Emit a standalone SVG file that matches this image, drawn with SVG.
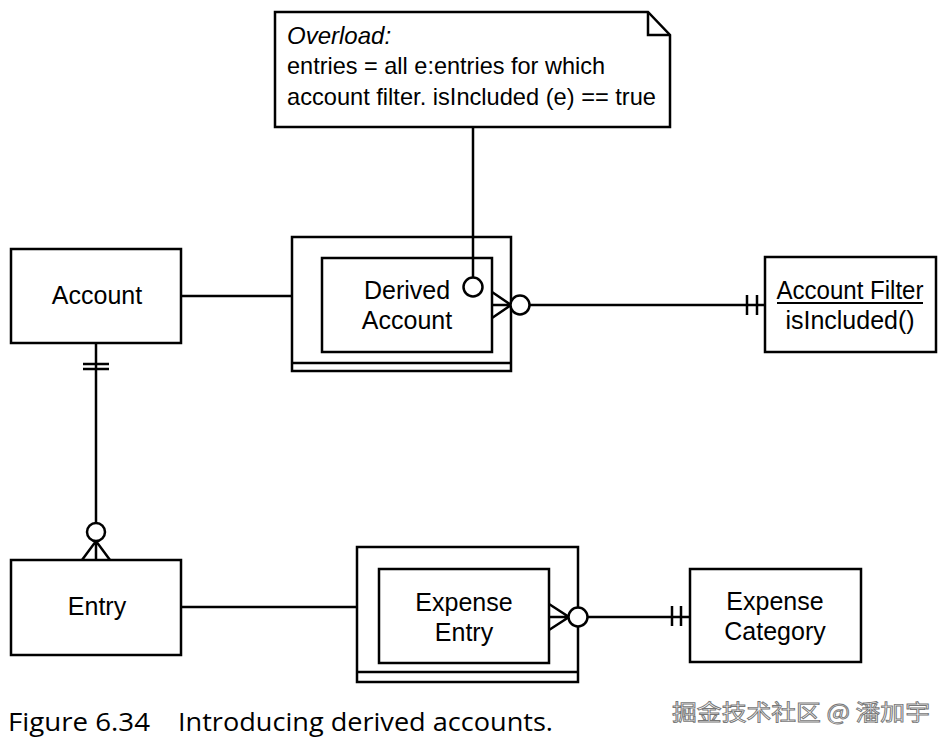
<svg xmlns="http://www.w3.org/2000/svg" width="952" height="744" viewBox="0 0 952 744">
<style>
.b{fill:#fff;stroke:#000;stroke-width:2.5}
.l{fill:none;stroke:#000;stroke-width:2.5}
.c{fill:#fff;stroke:#000;stroke-width:2.5}
.t{font-family:"Liberation Sans",Arial,sans-serif;font-size:25px;fill:#000;text-anchor:middle}
.n{font-family:"Liberation Sans",Arial,sans-serif;font-size:24px;fill:#000}
.cap{font-family:"Open Sans","Noto Sans",sans-serif;font-size:25px;fill:#000}
.wm{font-family:"Noto Sans CJK SC","Noto Sans",sans-serif;font-size:22px;fill:#fff;stroke:#777;stroke-width:0.9}
</style>
<rect width="952" height="744" fill="#fff"/>
<g id="note">
  <path class="b" d="M275,12 H648 L670,35 V127 H275 Z"/>
  <path class="l" d="M648,12 V35 H670"/>
  <text class="n" x="287" y="44" font-style="italic">Overload:</text>
  <text class="n" x="287" y="74" textLength="318" lengthAdjust="spacingAndGlyphs">entries = all e:entries for which</text>
  <text class="n" x="287" y="105" textLength="369" lengthAdjust="spacingAndGlyphs">account filter. isIncluded (e) == true</text>
</g>
<g id="account">
  <rect class="b" x="11" y="249" width="170" height="94"/>
  <text class="t" x="97" y="304">Account</text>
</g>
<g id="derived-account">
  <rect class="b" x="292" y="237" width="219" height="134"/>
  <line class="l" x1="292" y1="363" x2="511" y2="363"/>
  <rect class="b" x="322" y="258" width="170" height="94"/>
  <text class="t" x="407" y="299">Derived</text>
  <text class="t" x="407" y="329">Account</text>
</g>
<g id="account-filter">
  <rect class="b" x="765" y="257" width="171" height="95"/>
  <text class="t" x="850" y="299" textLength="147" lengthAdjust="spacingAndGlyphs">Account Filter</text>
  <line x1="777" y1="303" x2="923" y2="303" stroke="#000" stroke-width="1.8"/>
  <text class="t" x="850" y="329">isIncluded()</text>
</g>
<g id="entry">
  <rect class="b" x="11" y="560" width="170" height="95"/>
  <text class="t" x="97" y="615">Entry</text>
</g>
<g id="expense-entry">
  <rect class="b" x="357" y="547" width="221" height="135"/>
  <line class="l" x1="357" y1="672" x2="578" y2="672"/>
  <rect class="b" x="379" y="569" width="170" height="94"/>
  <text class="t" x="464" y="611">Expense</text>
  <text class="t" x="464" y="641">Entry</text>
</g>
<g id="expense-category">
  <rect class="b" x="690" y="569" width="171" height="93"/>
  <text class="t" x="775" y="610">Expense</text>
  <text class="t" x="775" y="640">Category</text>
</g>
<g id="connectors">
  <line class="l" x1="473" y1="127" x2="473" y2="277"/>
  <circle class="c" cx="473" cy="287" r="9.5"/>
  <line class="l" x1="181" y1="296" x2="291" y2="296"/>
  <path class="l" d="M492,292 L511,305 L492,318 M492,305 H511"/>
  <line class="l" x1="530" y1="305" x2="765" y2="305"/>
  <circle class="c" cx="520" cy="305" r="9.5"/>
  <line class="l" x1="747" y1="295" x2="747" y2="315"/>
  <line class="l" x1="757" y1="295" x2="757" y2="315"/>
  <line class="l" x1="96" y1="343" x2="96" y2="523"/>
  <line class="l" x1="83" y1="364" x2="109" y2="364"/>
  <line class="l" x1="83" y1="369" x2="109" y2="369"/>
  <path class="l" d="M82,560 L96,541 L110,560 M96,541 V560"/>
  <circle class="c" cx="96" cy="532" r="9"/>
  <line class="l" x1="181" y1="607" x2="357" y2="607"/>
  <path class="l" d="M549,604 L569,617 L549,630 M549,617 H569"/>
  <line class="l" x1="587" y1="617" x2="690" y2="617"/>
  <circle class="c" cx="578" cy="617" r="9.5"/>
  <line class="l" x1="672" y1="606" x2="672" y2="626"/>
  <line class="l" x1="681" y1="606" x2="681" y2="626"/>
</g>
<text class="cap" x="8" y="731" textLength="142" lengthAdjust="spacingAndGlyphs">Figure 6.34</text>
<text class="cap" x="178" y="731" textLength="375" lengthAdjust="spacingAndGlyphs">Introducing derived accounts.</text>
<text class="wm" x="672" y="720" textLength="258" lengthAdjust="spacingAndGlyphs">掘金技术社区 @ 潘加宇</text>
</svg>
